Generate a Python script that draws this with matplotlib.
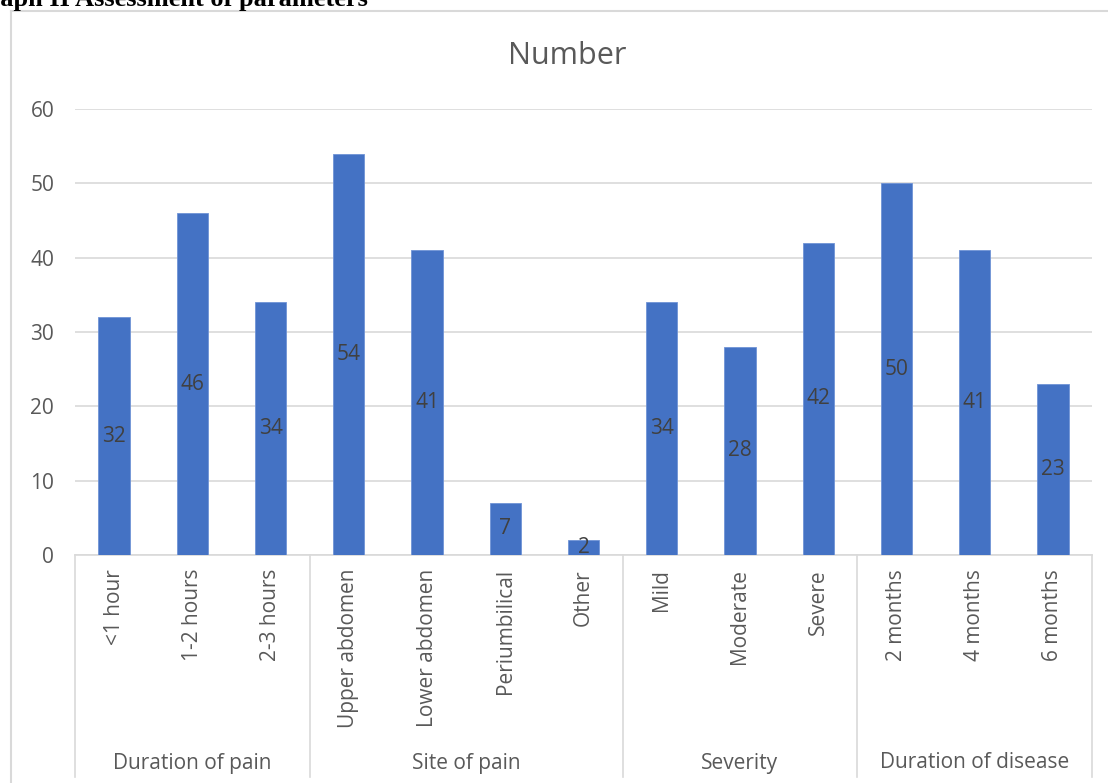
import matplotlib
matplotlib.use("Agg")
import matplotlib.pyplot as plt
from matplotlib.lines import Line2D
import numpy as np

plt.rcParams['font.family'] = ['Open Sans', 'DejaVu Sans']

categories = ["<1 hour", "1-2 hours", "2-3 hours",
              "Upper abdomen", "Lower abdomen", "Periumbilical", "Other",
              "Mild", "Moderate", "Severe",
              "2 months", "4 months", "6 months"]
values = [32, 46, 34, 54, 41, 7, 2, 34, 28, 42, 50, 41, 23]
groups = ["Duration of pain", "Site of pain", "Severity", "Duration of disease"]
group_sizes = [3, 4, 3, 3]
yticks = [0, 10, 20, 30, 40, 50, 60]

W, H = 1108, 783
fig = plt.figure(figsize=(W / 100, H / 100), dpi=100)
ax = fig.add_axes([75 / W, 1 - 555 / H, 1017 / W, 446 / H])

x = np.arange(len(categories))
bars = ax.bar(x, values, width=0.4, color="#4472C4", edgecolor="#6f93d6", linewidth=0.6, zorder=3)
ax.bar_label(bars, labels=[str(v) for v in values], label_type='center',
             color="#404040", fontsize=15)

ax.set_xlim(-0.5, len(categories) - 0.5)
ax.set_ylim(0, 60)
ax.set_yticks(yticks)
ax.set_yticklabels([str(t) for t in yticks])
ax.yaxis.grid(True, color="#d9d9d9", linewidth=1.2, zorder=0)
ax.set_axisbelow(True)
for s in ['top', 'right', 'left']:
    ax.spines[s].set_visible(False)
ax.spines['bottom'].set_color("#d9d9d9")
ax.spines['bottom'].set_linewidth(1.2)
ax.tick_params(axis='y', length=0, pad=15, labelsize=15, labelcolor="#595959")
ax.set_xticks(x)
ax.set_xticklabels(categories, rotation=90, va='top', ha='center')
ax.tick_params(axis='x', length=0, pad=10, labelsize=15, labelcolor="#595959")

# group separators and labels
bottom_y = (555 - 777) / 446
start = -0.5
bounds = [start]
for n in group_sizes:
    bounds.append(bounds[-1] + n)
trans = ax.get_xaxis_transform()
for b in bounds:
    ax.add_line(Line2D([b, b], [0, bottom_y], transform=trans, color="#d9d9d9",
                       linewidth=1.2, clip_on=False))
for g, a, b in zip(groups, bounds[:-1], bounds[1:]):
    ax.text((a + b) / 2, (555 - 763) / 446, g, transform=trans, ha='center', va='center',
            fontsize=15, color="#595959")

# chart frame
fig.add_artist(Line2D([11 / W, 11 / W], [0, 1 - 11 / H], color="#d9d9d9", linewidth=1.5))
fig.add_artist(Line2D([11 / W, 1], [1 - 11 / H, 1 - 11 / H], color="#d9d9d9", linewidth=1.5))

fig.text(567 / W, 1 - 56 / H, "Number", ha='center', va='center', fontsize=22, color="#595959")

fig.text(368 / W, 1 - 6 / H, "Graph II Assessment of parameters", ha='right', va='baseline',
         fontsize=19, fontweight='bold', family=['Liberation Serif'], color='black')

fig.savefig("out.png", dpi=100)
